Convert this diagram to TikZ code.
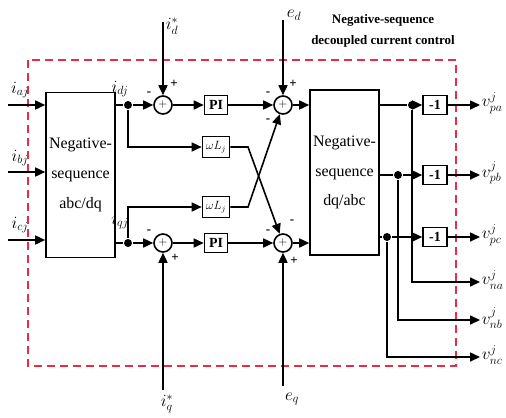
\documentclass[tikz,border=0pt]{standalone}
\usepackage{fontspec}
\setmainfont{Liberation Serif}
\usetikzlibrary{arrows.meta}
\definecolor{dashred}{RGB}{228,45,70}
\begin{document}
\begin{tikzpicture}[x=1bp,y=-1bp,
 line width=1.6bp,
 arr/.style={-{Triangle[length=10bp,width=9bp]}},
 blk/.style={draw,minimum width=69bp,minimum height=165bp,inner sep=0pt,align=center,font=\fontsize{16}{30}\selectfont},
 sbox/.style={draw,inner sep=0pt,minimum height=19bp,font=\fontsize{14}{14}\selectfont\bfseries},
 sumn/.style={draw,circle,minimum size=18bp,inner sep=0pt,font=\fontsize{12}{12}\selectfont},
 dotn/.style={fill,circle,minimum size=8bp,inner sep=0pt},
 lbl/.style={font=\fontsize{17}{17}\selectfont,inner sep=0pt},
 sgn/.style={font=\fontsize{13}{13}\selectfont\bfseries,inner sep=0pt}]
\useasboundingbox (0,0) rectangle (506,417);
% dashed frame
\draw[dashred,dashed,dash pattern=on 8bp off 5bp,line width=1.5bp] (28,60) rectangle (456,366);
\node[font=\fontsize{13}{13}\selectfont\bfseries,align=center,inner sep=0pt] (title) at (383,31) {Negative-sequence\\[8bp]decoupled current control};
% blocks
\node[blk] (abc) at (80.5,175) {Negative-\\sequence\\abc/dq};
\node[blk] (dqabc) at (344.5,172.5) {Negative-\\sequence\\dq/abc};
% inputs
\coordinate (ina) at (8,105);
\coordinate (inb) at (8,172);
\coordinate (inc) at (8,240);
\draw[arr] (ina) -- (ina -| abc.west);
\draw[arr] (inb) -- (inb -| abc.west);
\draw[arr] (inc) -- (inc -| abc.west);
\node[lbl] (la) at (20,90) {$i_{aj}$};
\node[lbl] (lb) at (20,158) {$i_{bj}$};
\node[lbl] (lc) at (20,225) {$i_{cj}$};
% d row
\node[dotn] (dd) at (128,105) {};
\node[sumn] (s1) at (163,105) {$+$};
\node[sbox,minimum width=23bp] (pi1) at (216,105) {PI};
\node[sumn] (s2) at (283,105) {$+$};
% q row
\node[dotn] (dq) at (128,243) {};
\node[sumn] (s3) at (163,243) {$+$};
\node[sbox,minimum width=23bp] (pi2) at (216,243) {PI};
\node[sumn] (s4) at (283,243) {$+$};
% omega L
\node[draw,inner sep=0pt,minimum width=27bp,minimum height=21bp,font=\fontsize{12}{12}\selectfont] (wl1) at (216,147) {$\omega L_j$};
\node[draw,inner sep=0pt,minimum width=27bp,minimum height=21bp,font=\fontsize{12}{12}\selectfont] (wl2) at (216,207) {$\omega L_j$};
% connections d
\draw (abc.east |- dd) -- (dd);
\draw[arr] (dd) -- (s1);
\draw[arr] (s1) -- (pi1);
\draw[arr] (pi1) -- (s2);
\draw[arr] (s2) -- (s2 -| dqabc.west);
\draw[arr] (dd) |- (wl1);
% connections q
\draw (abc.east |- dq) -- (dq);
\draw[arr] (dq) -- (s3);
\draw[arr] (s3) -- (pi2);
\draw[arr] (pi2) -- (s4);
\draw[arr] (s4) -- (s4 -| dqabc.west);
\draw[arr] (dq) |- (wl2);
% cross
\coordinate (c1) at (248,147);
\coordinate (c2) at (248,207);
\draw[arr] (wl1) -- (c1) -- (s4);
\draw[arr] (wl2) -- (c2) -- (s2);
% references
\coordinate (idt) at (163,22);
\coordinate (edt) at (283,20);
\coordinate (iqb) at (163,390);
\coordinate (eqb) at (283,386);
\draw[arr] (idt) -- (s1);
\draw[arr] (edt) -- (s2);
\draw[arr] (iqb) -- (s3);
\draw[arr] (eqb) -- (s4);
\node[lbl] (lid) at (172,26) {$i_d^*$};
\node[lbl] (led) at (294,15) {$e_d$};
\node[lbl] (liq) at (167,404) {$i_q^*$};
\node[lbl] (leq) at (292,399) {$e_q$};
\node[lbl] (lidj) at (120,89) {$i_{dj}$};
\node[lbl] (liqj) at (120,221) {$i_{qj}$};
% signs
\node[sgn] at (149,94) {-};
\node[sgn] at (174,84) {+};
\node[sgn] at (149,232) {-};
\node[sgn] at (175,258) {+};
\node[sgn] at (268,94) {-};
\node[sgn] at (293,84) {+};
\node[sgn] at (268,121) {-};
\node[sgn] at (268,232) {-};
\node[sgn] at (292,222) {-};
\node[sgn] at (294,261) {+};
% right side
\node[dotn] (o1) at (412,105) {};
\node[dotn] (o2) at (398,175) {};
\node[dotn] (o3) at (387,237) {};
\node[sbox,minimum width=24bp] (m1) at (435,105) {-1};
\node[sbox,minimum width=24bp] (m2) at (435,175) {-1};
\node[sbox,minimum width=24bp] (m3) at (435,237) {-1};
\draw (dqabc.east |- o1) -- (o1);
\draw (dqabc.east |- o2) -- (o2);
\draw (dqabc.east |- o3) -- (o3);
\draw[arr] (o1) -- (m1);
\draw[arr] (o2) -- (m2);
\draw[arr] (o3) -- (m3);
\coordinate (e1) at (480,105);
\coordinate (e2) at (480,175);
\coordinate (e3) at (480,237);
\coordinate (e4) at (480,282);
\coordinate (e5) at (480,320);
\coordinate (e6) at (480,357);
\draw[arr] (m1) -- (e1);
\draw[arr] (m2) -- (e2);
\draw[arr] (m3) -- (e3);
\draw[arr] (o1) |- (e4);
\draw[arr] (o2) |- (e5);
\draw[arr] (o3) |- (e6);
\node[lbl,anchor=west] (v1) at (481,103) {$v_{pa}^j$};
\node[lbl,anchor=west] (v2) at (481,173) {$v_{pb}^j$};
\node[lbl,anchor=west] (v3) at (481,235) {$v_{pc}^j$};
\node[lbl,anchor=west] (v4) at (481,280) {$v_{na}^j$};
\node[lbl,anchor=west] (v5) at (481,318) {$v_{nb}^j$};
\node[lbl,anchor=west] (v6) at (481,355) {$v_{nc}^j$};
\end{tikzpicture}
\end{document}
